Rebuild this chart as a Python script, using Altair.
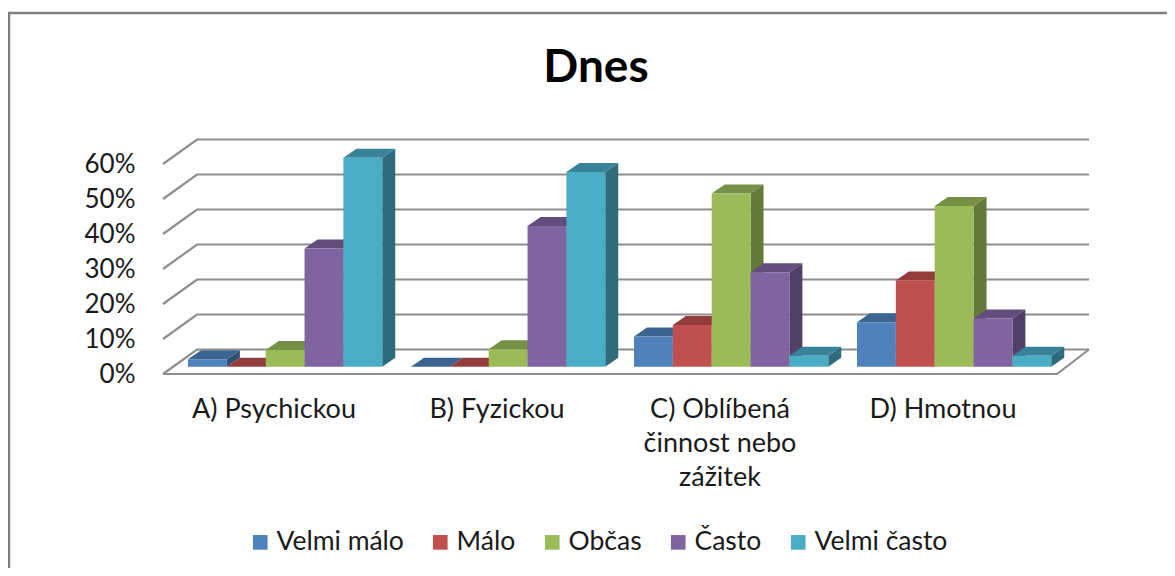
import altair as alt
import pandas as pd

title = "Dnes"
categories = ["A) Psychickou", "B) Fyzickou", "C) Oblíbená|činnost nebo|zážitek", "D) Hmotnou"]
series = ["Velmi málo", "Málo", "Občas", "Často", "Velmi často"]
velmi_malo = [0.021, 0.0, 0.086, 0.127]
malo = [0.0, 0.0, 0.119, 0.246]
obcas = [0.048, 0.05, 0.495, 0.459]
casto = [0.338, 0.402, 0.27, 0.138]
velmi_casto = [0.597, 0.556, 0.031, 0.031]
values = [velmi_malo, malo, obcas, casto, velmi_casto]
front_colors = ["#4F81BD", "#C0504D", "#9BBB59", "#8064A2", "#4BACC6"]
top_colors = ["#3C6490", "#923D3B", "#769047", "#624D7C", "#39839A"]
side_colors = ["#2F4F73", "#733130", "#637A3A", "#503F66", "#2E6C7C"]
y_ticks = [0, 0.1, 0.2, 0.3, 0.4, 0.5, 0.6]

FONT = "Lato"
GRID = "#8E8E8E"
# plot frame measured in pixels
PX_W, PX_H = 926, 235
PX_PER_UNIT = 350.0   # pixels for 100 %
GROUP = 223.0         # pixels between groups
FIRST_TICK = 110.5    # first category tick, from plot left


def X(px):
    return (px - FIRST_TICK) / GROUP


def Y(px):
    return px / PX_PER_UNIT


x_scale = alt.Scale(domain=[X(0), X(PX_W)], nice=False, zero=False)
y_scale = alt.Scale(domain=[0, Y(PX_H)], nice=False, zero=False)

fronts, sides, tops = [], [], []
bar_w, first_left, dx, dy, base = 38.85, 25.0, 13.0, Y(9), Y(7.3)
for s, name in enumerate(series):
    for c in range(len(categories)):
        v = values[s][c]
        l = first_left + GROUP * c + bar_w * s
        r = l + bar_w
        key = f"{s}-{c}"
        fronts.append(dict(series=name, x=X(l), x2=X(r), y=base, y2=base + v))
        sides += [
            dict(k=key, fill=side_colors[s], x=X(r), y=base, y2=base + v),
            dict(k=key, fill=side_colors[s], x=X(r + dx), y=base + dy, y2=base + v + dy),
        ]
        tops += [
            dict(k=key, fill=top_colors[s], y=base + v, x=X(l), x2=X(r)),
            dict(k=key, fill=top_colors[s], y=base + v + dy, x=X(l + dx), x2=X(r + dx)),
        ]

wall_dx, wall_dy, floor_r = 34.0, Y(24.5), 894.0
grid = []
for t in y_ticks:
    grid += [
        dict(k=f"g{t}", o=0, x=X(0), y=t),
        dict(k=f"g{t}", o=1, x=X(wall_dx), y=t + wall_dy),
        dict(k=f"g{t}", o=2, x=X(PX_W), y=t + wall_dy),
    ]
grid += [
    dict(k="floor", o=0, x=X(0), y=0),
    dict(k="floor", o=1, x=X(floor_r), y=0),
    dict(k="floor", o=2, x=X(PX_W), y=wall_dy),
]
frame = [
    dict(k="frame", o=0, x=X(-154), y=Y(-194)),
    dict(k="frame", o=1, x=X(-154), y=Y(361)),
    dict(k="frame", o=2, x=X(1004), y=Y(361)),
]

x_axis = alt.Axis(
    values=list(range(len(categories))),
    labelExpr="split(" + str(categories) + "[datum.value], '|')",
    title=None, domain=False, ticks=False, grid=False,
    labelFont=FONT, labelFontSize=27, labelColor="#1A1A1A", labelPadding=22,
    labelLineHeight=34, labelOverlap=False, labelFlush=False, labelBound=False,
    labelAlign="center", labelBaseline="top",
)
y_axis = alt.Axis(
    values=y_ticks, format=".0%", title=None, domain=False, ticks=False, grid=False,
    labelFont=FONT, labelFontSize=26, labelColor="#1A1A1A", labelPadding=28,
    labelOverlap=False, labelBound=False,
)
xe = alt.X("x:Q", scale=x_scale, axis=x_axis)
ye = alt.Y("y:Q", scale=y_scale, axis=y_axis)

grid_layer = alt.Chart(pd.DataFrame(grid)).mark_line(
    color=GRID, strokeWidth=2.2, clip=False
).encode(x=xe, y=ye, detail="k:N", order="o:Q")
frame_layer = alt.Chart(pd.DataFrame(frame)).mark_line(
    color="#808080", strokeWidth=2.4, clip=False
).encode(x=xe, y=ye, detail="k:N", order="o:Q")

side_layer = alt.Chart(pd.DataFrame(sides)).mark_area(orient="vertical").encode(
    x=xe, y=ye, y2="y2:Q", detail="k:N",
    fill=alt.Fill("fill:N", scale=None),
)
top_layer = alt.Chart(pd.DataFrame(tops)).mark_area(orient="horizontal").encode(
    y=ye, x=xe, x2="x2:Q", detail="k:N",
    fill=alt.Fill("fill:N", scale=None),
)
front_layer = alt.Chart(pd.DataFrame(fronts)).mark_rect().encode(
    x=xe, x2="x2:Q", y=ye, y2="y2:Q",
    color=alt.Color(
        "series:N",
        scale=alt.Scale(domain=series, range=front_colors),
        sort=series,
        legend=alt.Legend(
            title=None, orient="none", direction="horizontal", columns=5,
            legendX=84, legendY=390, symbolType="square", symbolSize=215,
            symbolStrokeWidth=0, labelFont=FONT, labelFontSize=26.5,
            labelColor="#1A1A1A", labelOffset=3, columnPadding=23, padding=0,
            labelLimit=300,
        ),
    ),
)

chart = alt.layer(grid_layer, frame_layer, side_layer, top_layer, front_layer).properties(
    width=PX_W,
    height=PX_H,
    padding={"left": 155, "top": 131, "right": 78, "bottom": 194},
    autosize=alt.AutoSizeParams(type="none"),
    background="white",
    title=alt.TitleParams(
        text=title, font=FONT, fontSize=46, fontWeight="bold", color="#000000",
        anchor="middle", frame="group", dx=-30, offset=-84,
    ),
).configure_view(stroke=None)

chart.save("out.html", embed_options={"renderer": "svg", "actions": False})
